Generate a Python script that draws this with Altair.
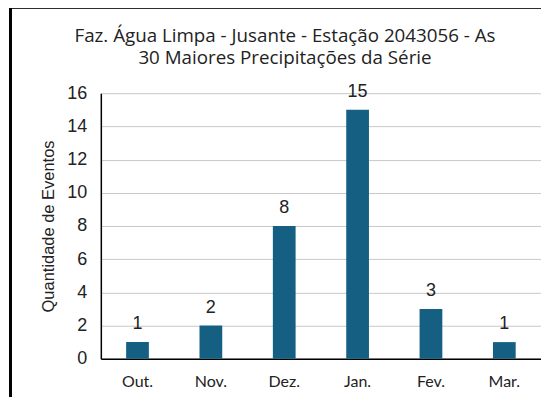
import altair as alt
import pandas as pd

months = ["Out.", "Nov.", "Dez.", "Jan.", "Fev.", "Mar."]
counts = [1, 2, 8, 15, 3, 1]
y_ticks = [0, 2, 4, 6, 8, 10, 12, 14, 16]

df = pd.DataFrame({"mes": months, "eventos": counts})

base = alt.Chart(df)

x_scale = alt.Scale(paddingInner=0.69, paddingOuter=0.345)
y_scale = alt.Scale(domain=[0, 16], nice=False)

x_enc = alt.X(
    "mes:N",
    sort=months,
    title=None,
    scale=x_scale,
    axis=alt.Axis(
        labelAngle=0,
        labelFont="Lato",
        labelFontSize=16,
        labelColor="#222222",
        labelPadding=15,
        ticks=False,
        domainColor="#000000",
        domainWidth=1.5,
        grid=False,
    ),
)

y_enc = alt.Y(
    "eventos:Q",
    title="Quantidade de Eventos",
    scale=y_scale,
    axis=alt.Axis(
        values=y_ticks,
        labelOverlap=False,
        labelFont="Liberation Sans",
        labelFontSize=18,
        labelColor="#222222",
        labelPadding=14,
        ticks=False,
        domainColor="#000000",
        domainWidth=1.5,
        grid=True,
        gridColor="#c8c8c8",
        gridWidth=1,
        titleFont="Liberation Sans",
        titleFontSize=16.5,
        titleFontWeight="normal",
        titleColor="#222222",
        titlePadding=10,
    ),
)

bars = base.mark_bar(color="#156082").encode(x=x_enc, y=y_enc)

labels = base.mark_text(
    baseline="bottom",
    dy=-9,
    font="Liberation Sans",
    fontSize=18,
    color="#222222",
).encode(x=x_enc, y=y_enc, text="eventos:Q")

border_left = base.mark_rule(color="#000000", strokeWidth=2).encode(
    x=alt.value(-90.5), y=alt.value(-86), y2=alt.value(320)
)
border_top = base.mark_rule(color="#000000", strokeWidth=2).encode(
    x=alt.value(-91.5), x2=alt.value(460), y=alt.value(-86)
)

chart = (
    alt.layer(bars, labels, border_left, border_top)
    .properties(
        width=441,
        height=266,
        title=alt.TitleParams(
            text=["Faz. Água Limpa - Jusante -  Estação 2043056 - As",
                  "30 Maiores Precipitações da Série"],
            font="Open Sans",
            fontSize=18.8,
            fontWeight="normal",
            color="#222222",
            anchor="middle",
            dx=-36,
            offset=-62,
            lineHeight=23,
        ),
        autosize=alt.AutoSizeParams(type="none"),
        padding={"left": 93, "top": 85, "right": 0, "bottom": 38},
    )
    .configure_view(stroke=None)
)

chart.save("out.html", embed_options={"renderer": "svg", "actions": False})
